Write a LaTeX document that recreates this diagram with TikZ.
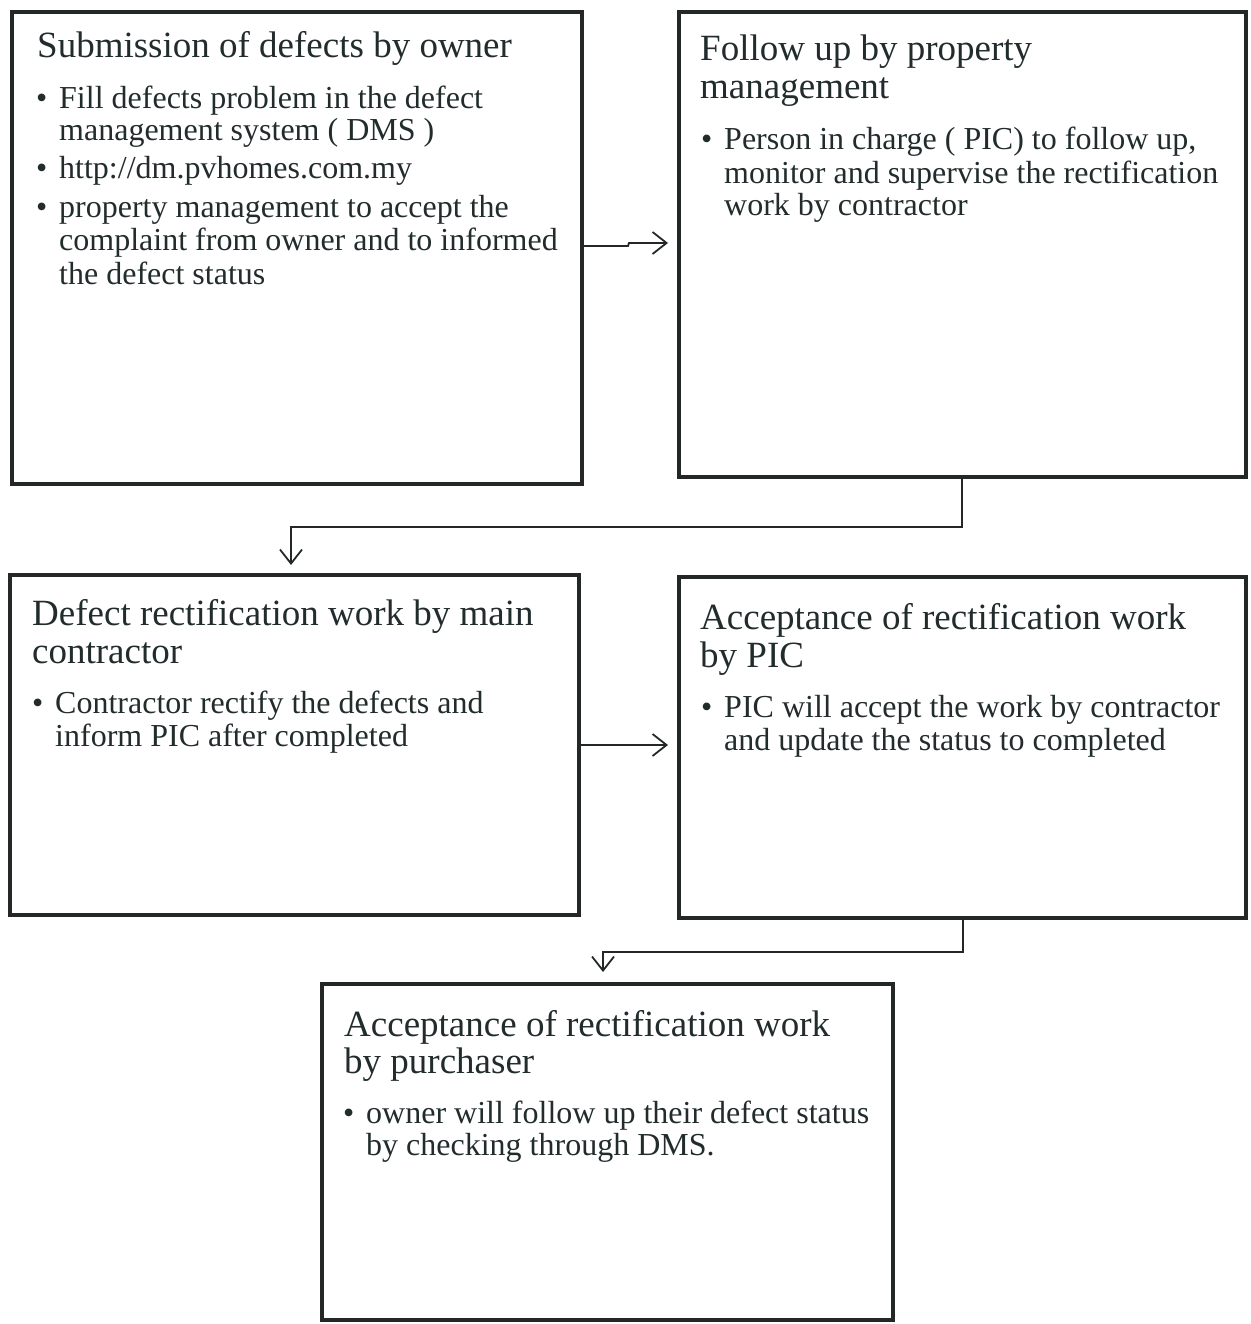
\documentclass[tikz,border=0pt]{standalone}
\usepackage{fontspec}
\setmainfont{Liberation Serif}
\usetikzlibrary{arrows.meta}
\definecolor{txt}{HTML}{222C2C}
\definecolor{edge}{HTML}{232827}
\newcommand{\ttlfont}{\fontsize{37pt}{38pt}\selectfont}
\newcommand{\bodfont}{\fontsize{32pt}{33pt}\selectfont}
\tikzset{
  box/.style={draw=edge, line width=4.5pt, rectangle, anchor=north west, inner sep=0pt, outer sep=0pt},
  ttl/.style={anchor=base west, inner sep=0pt, font=\ttlfont, text=txt},
  bod/.style={anchor=base west, inner sep=0pt, font=\bodfont, text=txt},
  conn/.style={draw=edge, line width=1.8pt, -{Straight Barb[length=14pt,width=22pt]}}
}
\begin{document}
\begin{tikzpicture}[x=1pt,y=-1pt]
\useasboundingbox (0,0) rectangle (1250,1324);
% boxes
\node[box, minimum width=570pt, minimum height=472pt] (b1) at (12,12) {};
\node[box, minimum width=567pt, minimum height=465pt] (b2) at (679,12) {};
\node[box, minimum width=569pt, minimum height=340pt] (b3) at (10,575) {};
\node[box, minimum width=567pt, minimum height=341pt] (b4) at (679,577) {};
\node[box, minimum width=571pt, minimum height=336pt] (b5) at (322,984) {};
% box 1 text
\node[ttl] (t1) at (37,58) {Submission of defects by owner};
\node[bod] (u1a) at (36,109) {\textbullet};
\node[bod] (l1a) at (59,109) {Fill defects problem in the defect};
\node[bod] (l1b) at (59,141) {management system ( DMS )};
\node[bod] (u1b) at (36,179) {\textbullet};
\node[bod] (l1c) at (59,179) {http://dm.pvhomes.com.my};
\node[bod] (u1c) at (36,218) {\textbullet};
\node[bod] (l1d) at (59,218) {property management to accept the};
\node[bod] (l1e) at (59,251) {complaint from owner and to informed};
\node[bod] (l1f) at (59,284) {the defect status};
% box 2 text
\node[ttl] (t2a) at (700,61) {Follow up by property};
\node[ttl] (t2b) at (700,99) {management};
\node[bod] (u2a) at (701,150) {\textbullet};
\node[bod] (l2a) at (724,150) {Person in charge ( PIC) to follow up,};
\node[bod] (l2b) at (724,184) {monitor and supervise the rectification};
\node[bod] (l2c) at (724,216) {work by contractor};
% box 3 text
\node[ttl] (t3a) at (32,625) {Defect rectification work by main};
\node[ttl] (t3b) at (32,663) {contractor};
\node[bod] (u3a) at (32,713) {\textbullet};
\node[bod] (l3a) at (55,713) {Contractor rectify the defects and};
\node[bod] (l3b) at (55,746) {inform PIC after completed};
% box 4 text
\node[ttl] (t4a) at (700,629) {Acceptance of rectification work};
\node[ttl] (t4b) at (700,667) {by PIC};
\node[bod] (u4a) at (701,717) {\textbullet};
\node[bod] (l4a) at (724,717) {PIC will accept the work by contractor};
\node[bod] (l4b) at (724,750) {and update the status to completed};
% box 5 text
\node[ttl] (t5a) at (344,1036) {Acceptance of rectification work};
\node[ttl] (t5b) at (344,1073) {by purchaser};
\node[bod] (u5a) at (343,1123) {\textbullet};
\node[bod] (l5a) at (366,1123) {owner will follow up their defect status};
\node[bod] (l5b) at (366,1155) {by checking through DMS.};
% connectors
\draw[conn, shorten >=11pt] (b1.east |- 0,246) -- ++(46,0) -- ++(1,-3) -- (b2.west |- 0,243);
\draw[conn, shorten >=10pt] (b2.south -| 962,0) -- ++(0,50) -| (b3.north -| 291,0);
\draw[conn, shorten >=11pt] (b3.east |- 0,745) -- (b4.west |- 0,745);
\draw[conn, shorten >=12pt] (b4.south -| 963,0) -- ++(0,34) -| (b5.north -| 603,0);
\end{tikzpicture}
\end{document}
